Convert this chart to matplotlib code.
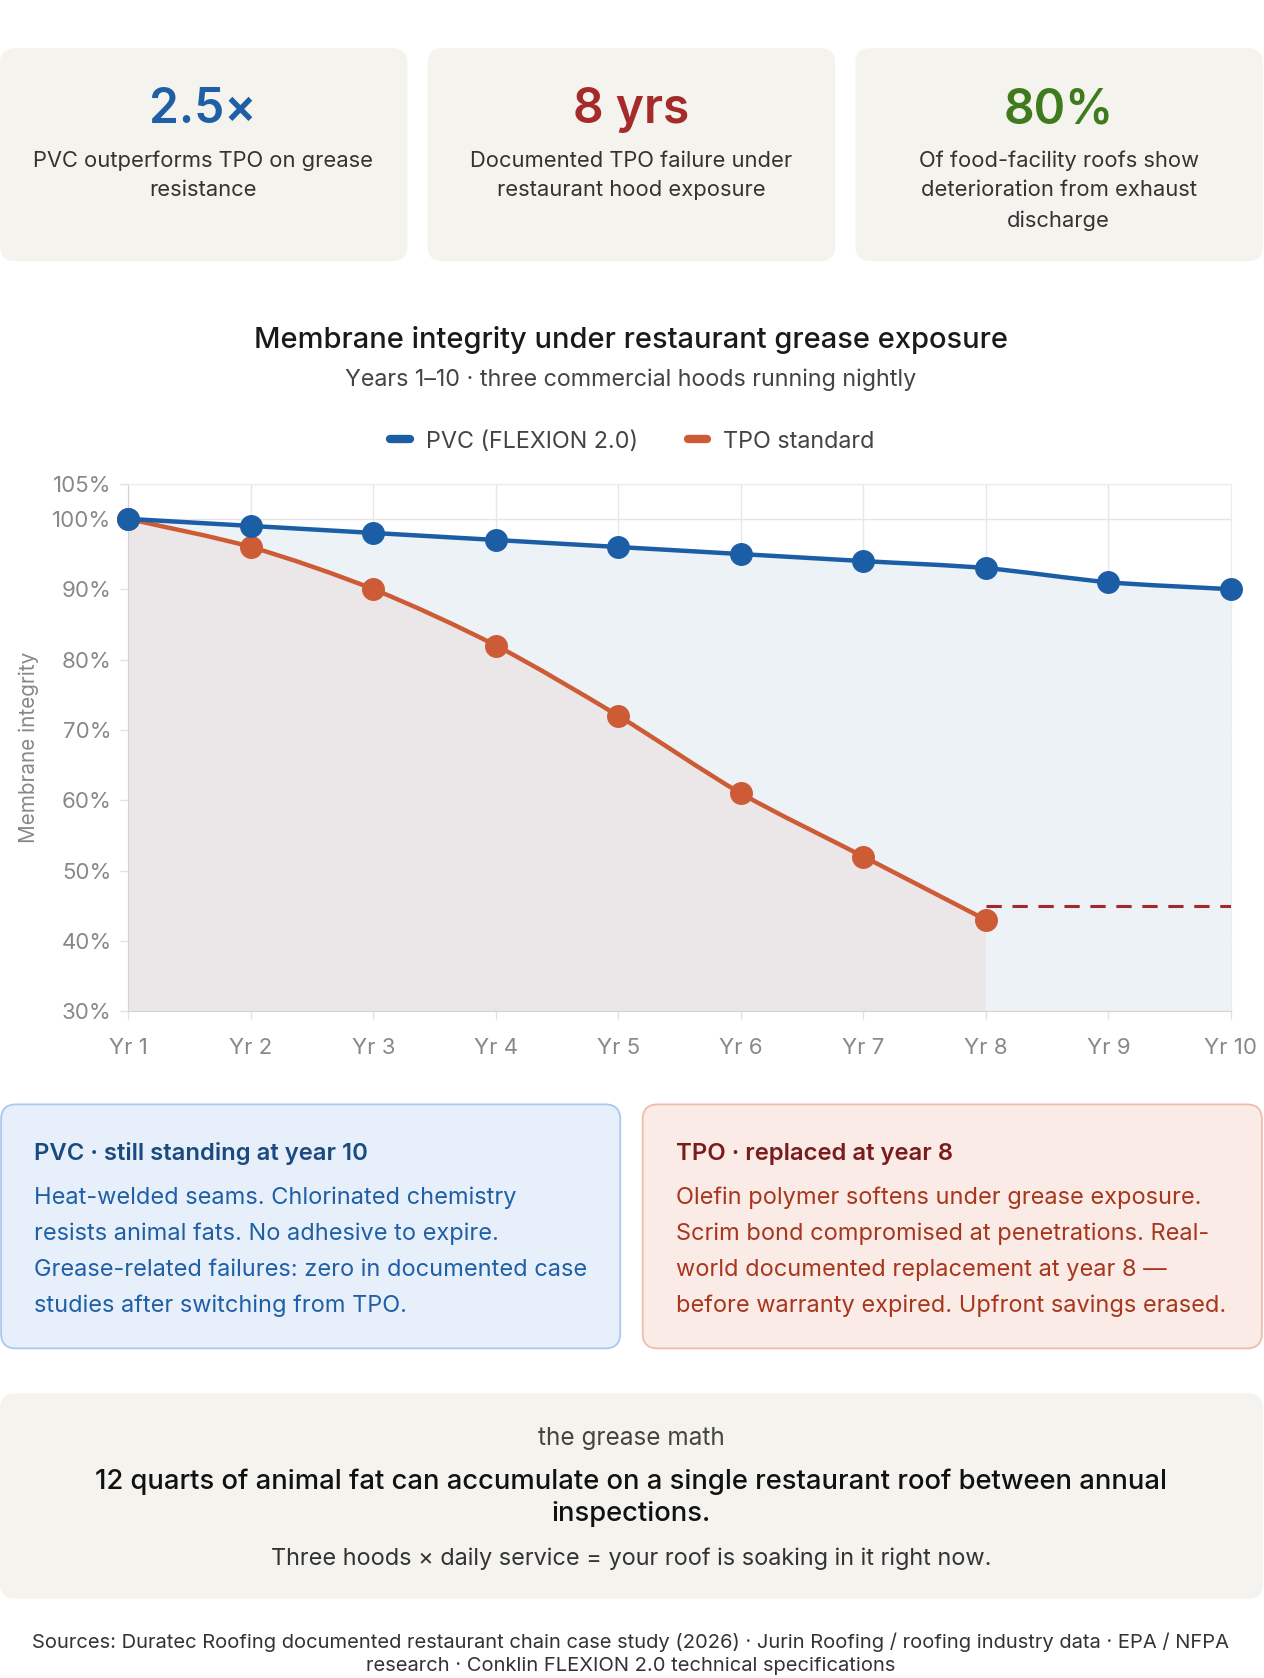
import numpy as np
import matplotlib
matplotlib.use("Agg")
import matplotlib.pyplot as plt
from matplotlib.patches import FancyBboxPatch, PathPatch
from matplotlib.path import Path
from matplotlib.lines import Line2D

plt.rcParams['font.family'] = ['Inter', 'DejaVu Sans']

# ---- data ----
years = ['Yr 1', 'Yr 2', 'Yr 3', 'Yr 4', 'Yr 5', 'Yr 6', 'Yr 7', 'Yr 8', 'Yr 9', 'Yr 10']
pvc = [100, 99, 98, 97, 96, 95, 94, 93, 91, 90]
tpo = [100, 96, 90, 82, 72, 61, 52, 43]
replaced_level = 45
yticks = [30, 40, 50, 60, 70, 80, 90, 100, 105]

stat_values = ['2.5×', '8 yrs', '80%']
stat_labels = [
    ['PVC outperforms TPO on grease', 'resistance'],
    ['Documented TPO failure under', 'restaurant hood exposure'],
    ['Of food-facility roofs show', 'deterioration from exhaust', 'discharge'],
]
stat_colors = ['#1f5fa6', '#a52a2a', '#3f7a1d']

pvc_note = ['Heat-welded seams. Chlorinated chemistry',
            'resists animal fats. No adhesive to expire.',
            'Grease-related failures: zero in documented case',
            'studies after switching from TPO.']
tpo_note = ['Olefin polymer softens under grease exposure.',
            'Scrim bond compromised at penetrations. Real-',
            'world documented replacement at year 8 —',
            'before warranty expired. Upfront savings erased.']

PVC_C = '#1b5ea6'
TPO_C = '#cd5b36'

W, H = 1182, 1568
fig = plt.figure(figsize=(12.64, 16.78), dpi=100)
fig.patch.set_facecolor('white')

# background layer in "page pixels"
bg = fig.add_axes([0, 0, 1, 1], zorder=0)
bg.set_xlim(0, W)
bg.set_ylim(H, 0)
bg.axis('off')

dy = 2  # small nudge so text centres sit like the reference


def card(x0, y0, x1, y1, fc, ec='none', lw=0):
    p = FancyBboxPatch((x0, y0), x1 - x0, y1 - y0,
                       boxstyle='round,pad=0,rounding_size=14',
                       fc=fc, ec=ec, lw=lw)
    bg.add_patch(p)


# stat cards
for i, (val, lines, col) in enumerate(zip(stat_values, stat_labels, stat_colors)):
    x0 = i * 400
    card(x0, 45, x0 + 381, 244, '#f4f3ee')
    cx = x0 + 190
    bg.text(cx, 101 + dy, val, ha='center', va='center', fontsize=34.5, color=col,
            fontweight='semibold')
    for j, ln in enumerate(lines):
        bg.text(cx, 148 + 28 * j + dy, ln, ha='center', va='center', fontsize=15.8,
                color='#333333')

# chart titles
bg.text(590, 316 + dy, 'Membrane integrity under restaurant grease exposure',
        ha='center', va='center', fontsize=20.9, color='#1a1a1a', fontweight='medium')
bg.text(590, 353 + dy, 'Years 1–10 · three commercial hoods running nightly',
        ha='center', va='center', fontsize=16.8, color='#444444')

# legend
for x0, label, col in [(362, 'PVC (FLEXION 2.0)', PVC_C), (640, 'TPO standard', TPO_C)]:
    bg.add_line(Line2D([x0 + 3, x0 + 21], [410, 410], lw=6, color=col,
                       solid_capstyle='round'))
    bg.text(x0 + 36, 411 + dy, label, ha='left', va='center', fontsize=16.8, color='#444444')

# ---- line chart ----
ax = fig.add_axes([120 / W, 1 - 945 / H, (1151 - 120) / W, (945 - 452) / H], zorder=2)
ax.set_facecolor('none')
ax.set_xlim(0, len(years) - 1)
ax.set_ylim(30, 105)

sx, sy = 114.55, 6.57   # page px per unit, used for spline control points


def spline_path(vals, tension=0.3):
    xs = np.arange(len(vals), dtype=float)
    ys = np.asarray(vals, dtype=float)
    px, py = xs * sx, ys * sy
    cps = []
    n = len(vals)
    for k in range(n):
        pk = max(k - 1, 0)
        nk = min(k + 1, n - 1)
        d01 = np.hypot(px[k] - px[pk], py[k] - py[pk])
        d12 = np.hypot(px[nk] - px[k], py[nk] - py[k])
        tot = d01 + d12
        s01 = d01 / tot if tot else 0
        s12 = d12 / tot if tot else 0
        fa, fb = tension * s01, tension * s12
        ddx, ddy = px[nk] - px[pk], py[nk] - py[pk]
        cps.append(((px[k] - fa * ddx, py[k] - fa * ddy), (px[k] + fb * ddx, py[k] + fb * ddy)))
    verts = [(xs[0], ys[0])]
    codes = [Path.MOVETO]
    for k in range(n - 1):
        c1 = cps[k][1]
        c2 = cps[k + 1][0]
        verts += [(c1[0] / sx, c1[1] / sy), (c2[0] / sx, c2[1] / sy), (xs[k + 1], ys[k + 1])]
        codes += [Path.CURVE4] * 3
    return verts, codes


def area_path(verts, codes, x_end, base=30):
    v = list(verts) + [(x_end, base), (0, base), (0, verts[0][1])]
    c = list(codes) + [Path.LINETO, Path.LINETO, Path.CLOSEPOLY]
    return Path(v, c)


pv, pc = spline_path(pvc)
tv, tc = spline_path(tpo)

ax.add_patch(PathPatch(area_path(pv, pc, len(pvc) - 1), fc='#edf2f7', ec='none', zorder=1))
ax.add_patch(PathPatch(area_path(tv, tc, len(tpo) - 1), fc='#ebe6e7', ec='none', zorder=1.1))

ax.plot([len(tpo) - 1, len(years) - 1], [replaced_level, replaced_level],
        color='#a3282b', lw=2.2, dashes=(5, 3.5), zorder=3)

ax.add_patch(PathPatch(Path(tv, tc), fc='none', ec=TPO_C, lw=3.2, zorder=4,
                       capstyle='round', joinstyle='round'))
ax.plot(range(len(tpo)), tpo, 'o', ms=15.5, color=TPO_C, zorder=5, clip_on=False)
ax.add_patch(PathPatch(Path(pv, pc), fc='none', ec=PVC_C, lw=3.2, zorder=6,
                       capstyle='round', joinstyle='round', clip_on=False))
ax.plot(range(len(pvc)), pvc, 'o', ms=15.5, color=PVC_C, zorder=7, clip_on=False)

ax.set_xticks(range(len(years)))
ax.set_xticklabels(years)
ax.set_yticks(yticks)
ax.set_yticklabels([f'{v}%' for v in yticks])
ax.tick_params(axis='both', colors='#e2e2e2', length=6, width=1, labelsize=16,
               labelcolor='#888888')
ax.tick_params(axis='x', pad=13)
ax.tick_params(axis='y', pad=6)
ax.grid(True, color='#e6e6e6', lw=1, zorder=0)
ax.set_axisbelow(True)
for side in ['top', 'right']:
    ax.spines[side].set_color('#ececec')
for side in ['left', 'bottom']:
    ax.spines[side].set_color('#d2d2d2')
ax.set_ylabel('Membrane integrity', fontsize=14.9, color='#888888', labelpad=10)

# ---- note cards ----
card(1, 1032, 580, 1260, '#e6effa', '#a9c9ee', 1.3)
card(601, 1032, 1180, 1260, '#faebe6', '#f2bba9', 1.3)
bg.text(32, 1076 + dy, 'PVC · still standing at year 10', ha='left', va='center',
        fontsize=17.2, color='#1a4a80', fontweight='semibold')
bg.text(632, 1076 + dy, 'TPO · replaced at year 8', ha='left', va='center',
        fontsize=17.2, color='#7a1c1c', fontweight='semibold')
for j, ln in enumerate(pvc_note):
    bg.text(32, 1117 + 33.7 * j + dy, ln, ha='left', va='center', fontsize=16.95,
            color='#1f5fa6')
for j, ln in enumerate(tpo_note):
    bg.text(632, 1117 + 33.7 * j + dy, ln, ha='left', va='center', fontsize=16.95,
            color='#a8361c')

# ---- grease math banner ----
card(0, 1302, 1181, 1494, '#f4f3ee')
bg.text(590, 1342 + dy, 'the grease math', ha='center', va='center', fontsize=17.5,
        color='#444444')
bg.text(590, 1383 + dy,
        '12 quarts of animal fat can accumulate on a single restaurant roof between annual',
        ha='center', va='center', fontsize=19.7, color='#111111', fontweight='medium')
bg.text(590, 1413 + dy, 'inspections.', ha='center', va='center', fontsize=19.7,
        color='#111111', fontweight='medium')
bg.text(590, 1455 + dy, 'Three hoods × daily service = your roof is soaking in it right now.',
        ha='center', va='center', fontsize=16.9, color='#333333')

bg.text(590, 1533 + dy, 'Sources: Duratec Roofing documented restaurant chain case study (2026) · '
        'Jurin Roofing / roofing industry data · EPA / NFPA',
        ha='center', va='center', fontsize=14.5, color='#333333')
bg.text(590, 1555 + dy, 'research · Conklin FLEXION 2.0 technical specifications',
        ha='center', va='center', fontsize=14.5, color='#333333')

fig.savefig('out.png', dpi=100, facecolor='white')
